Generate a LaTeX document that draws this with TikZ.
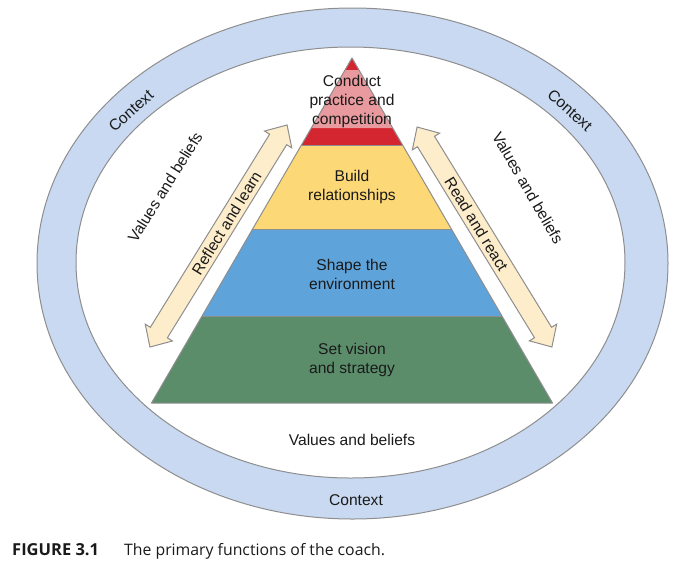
\documentclass[tikz,border=0pt]{standalone}
\usepackage{fontspec}
\setmainfont{Liberation Sans}
\newfontfamily\capfont{Open Sans}
\definecolor{ringfill}{HTML}{C8D9F1}
\definecolor{outl}{HTML}{8E8E8E}
\definecolor{pyrred}{HTML}{D32630}
\definecolor{pyrpink}{HTML}{E99A9E}
\definecolor{pyryellow}{HTML}{FDD877}
\definecolor{pyrblue}{HTML}{5FA3DB}
\definecolor{pyrgreen}{HTML}{5B8D6B}
\definecolor{arrfill}{HTML}{FDEDCB}
\definecolor{txtcol}{HTML}{1A1A1A}
\begin{document}
\begin{tikzpicture}[x=1pt,y=-1pt,
  txt/.style={font=\fontsize{15.6}{19}\selectfont, text=txtcol, align=center, inner sep=0pt},
  edge/.style={draw=outl, line width=1pt},
  dblarrow/.style={fill=arrfill, draw=outl, line width=1pt, line join=miter}]
\useasboundingbox (0,0) rectangle (680,566);
% rings
\fill[ringfill, even odd rule] (352.5,263.5) ellipse [x radius=315.5, y radius=255.5]
  (350.5,262.5) ellipse [x radius=274.5, y radius=215.5];
\draw[edge] (352.5,263.5) ellipse [x radius=315.5, y radius=255.5];
\draw[edge] (350.5,262.5) ellipse [x radius=274.5, y radius=215.5];
% pyramid
\fill[pyrred] (352,58) -- (402.6,145) -- (301.4,145) -- cycle;
\fill[pyrpink] (345.0,70) -- (359.0,70) -- (392.7,128) -- (311.3,128) -- cycle;
\fill[pyryellow] (301.4,145) -- (402.6,145) -- (451.4,229) -- (252.6,229) -- cycle;
\fill[pyrblue] (252.6,229) -- (451.4,229) -- (501.9,316) -- (202.1,316) -- cycle;
\fill[pyrgreen] (202.1,316) -- (501.9,316) -- (552.5,403) -- (151.5,403) -- cycle;
\draw[edge, line join=round] (352,58) -- (552.5,403) -- (151.5,403) -- cycle;
\draw[edge] (301.4,145) -- (402.6,145);
\draw[edge] (252.6,229) -- (451.4,229);
\draw[edge] (202.1,316) -- (501.9,316);
\node[txt] (conduct) at (352,101) {Conduct\\practice and\\competition};
\node[txt] (build) at (352,187) {Build\\relationships};
\node[txt] (shape) at (352,274) {Shape the\\environment};
\node[txt] (vision) at (352,360) {Set vision\\and strategy};
% arrows
\begin{scope}[shift={(218.5,236)}, rotate=58.3]
\draw[dblarrow] (-130.5,0) -- (-113.5,-16) -- (-113.5,-10) -- (113.5,-10) -- (113.5,-16)
  -- (130.5,0) -- (113.5,16) -- (113.5,10) -- (-113.5,10) -- (-113.5,16) -- cycle;
\end{scope}
\begin{scope}[shift={(484.5,237)}, rotate=-58.5]
\draw[dblarrow] (-129,0) -- (-112,-16) -- (-112,-10) -- (112,-10) -- (112,-16)
  -- (129,0) -- (112,16) -- (112,10) -- (-112,10) -- (-112,16) -- cycle;
\end{scope}
\node[txt, rotate=58.3] (reflect) at (226.5,223) {Reflect and learn};
\node[txt, rotate=-58.5] (react) at (476.5,224) {Read and react};
% values and beliefs
\node[txt, rotate=58] (vbl) at (165,187) {Values and beliefs};
\node[txt, rotate=-60] (vbr) at (528,188) {Values and beliefs};
\node[txt] (vbb) at (352,440) {Values and beliefs};
% context
\node[txt, rotate=42] (ctxl) at (131,111) {Context};
\node[txt, rotate=-42] (ctxr) at (570,110) {Context};
\node[txt] (ctxb) at (356,500) {Context};
% caption
\node[anchor=base west, inner sep=0pt, text=txtcol, font=\capfont\fontsize{16.5}{18}\selectfont\bfseries] (fig) at (12,555) {FIGURE 3.1};
\node[anchor=base west, inner sep=0pt, text=txtcol, font=\capfont\fontsize{15.8}{18}\selectfont] (cap) at (124,555) {The primary functions of the coach.};
\end{tikzpicture}
\end{document}
